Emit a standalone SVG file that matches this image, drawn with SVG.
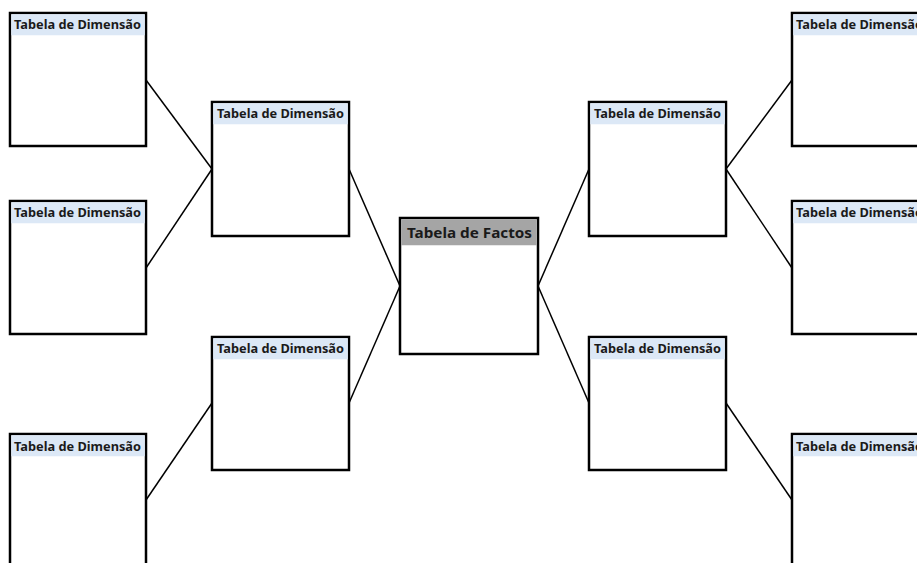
<svg xmlns="http://www.w3.org/2000/svg" width="917" height="563" viewBox="0 0 917 563">
<style>
.box{fill:#fff;stroke:#000;stroke-width:2.5}
.hd{fill:#dce8f6}
.hf{fill:#a5a5a5}
.t{font-family:"Noto Sans","Open Sans",sans-serif;font-weight:bold;font-size:12.6px;fill:#1a1a1a}
.tf{font-family:"Noto Sans","Open Sans",sans-serif;font-weight:bold;font-size:15px;fill:#1a1a1a}
.c{stroke:#000;stroke-width:1.5;fill:none}
</style>
<rect width="917" height="563" fill="#fff"/>
<g id="connectors">
<line class="c" x1="146" y1="80" x2="212" y2="169"/>
<line class="c" x1="146" y1="268" x2="212" y2="169"/>
<line class="c" x1="146" y1="500" x2="212" y2="403"/>
<line class="c" x1="349" y1="169" x2="400" y2="286"/>
<line class="c" x1="349" y1="403" x2="400" y2="286"/>
<line class="c" x1="538" y1="286" x2="589" y2="169"/>
<line class="c" x1="538" y1="286" x2="589" y2="403"/>
<line class="c" x1="726" y1="169" x2="792" y2="80"/>
<line class="c" x1="726" y1="169" x2="792" y2="268"/>
<line class="c" x1="726" y1="403" x2="792" y2="500"/>
</g>
<g id="dimL1"><rect class="box" x="10" y="13" width="136" height="133"/><rect class="hd" x="11.25" y="14.25" width="133.5" height="21"/><text class="t" x="14" y="29" textLength="127" lengthAdjust="spacingAndGlyphs">Tabela de Dimensão</text></g>
<g id="dimL2"><rect class="box" x="10" y="201" width="136" height="133"/><rect class="hd" x="11.25" y="202.25" width="133.5" height="21"/><text class="t" x="14" y="217" textLength="127" lengthAdjust="spacingAndGlyphs">Tabela de Dimensão</text></g>
<g id="dimL3"><rect class="box" x="10" y="434" width="136" height="140"/><rect class="hd" x="11.25" y="435.25" width="133.5" height="21"/><text class="t" x="14" y="451" textLength="127" lengthAdjust="spacingAndGlyphs">Tabela de Dimensão</text></g>
<g id="dimML1"><rect class="box" x="212" y="102" width="137" height="134"/><rect class="hd" x="213.25" y="103.25" width="134.5" height="21"/><text class="t" x="217" y="118" textLength="127" lengthAdjust="spacingAndGlyphs">Tabela de Dimensão</text></g>
<g id="dimML2"><rect class="box" x="212" y="337" width="137" height="133"/><rect class="hd" x="213.25" y="338.25" width="134.5" height="21"/><text class="t" x="217" y="353" textLength="127" lengthAdjust="spacingAndGlyphs">Tabela de Dimensão</text></g>
<g id="fact"><rect class="box" x="400" y="218" width="138" height="136"/><rect class="hf" x="401.25" y="219.25" width="135.5" height="26"/><text class="tf" x="407" y="238" textLength="125" lengthAdjust="spacingAndGlyphs">Tabela de Factos</text></g>
<g id="dimMR1"><rect class="box" x="589" y="102" width="137" height="134"/><rect class="hd" x="590.25" y="103.25" width="134.5" height="21"/><text class="t" x="594" y="118" textLength="127" lengthAdjust="spacingAndGlyphs">Tabela de Dimensão</text></g>
<g id="dimMR2"><rect class="box" x="589" y="337" width="137" height="133"/><rect class="hd" x="590.25" y="338.25" width="134.5" height="21"/><text class="t" x="594" y="353" textLength="127" lengthAdjust="spacingAndGlyphs">Tabela de Dimensão</text></g>
<g id="dimR1"><rect class="box" x="792" y="13" width="140" height="133"/><rect class="hd" x="793.25" y="14.25" width="137" height="21"/><text class="t" x="796" y="29" textLength="127" lengthAdjust="spacingAndGlyphs">Tabela de Dimensão</text></g>
<g id="dimR2"><rect class="box" x="792" y="201" width="140" height="133"/><rect class="hd" x="793.25" y="202.25" width="137" height="21"/><text class="t" x="796" y="217" textLength="127" lengthAdjust="spacingAndGlyphs">Tabela de Dimensão</text></g>
<g id="dimR3"><rect class="box" x="792" y="434" width="140" height="140"/><rect class="hd" x="793.25" y="435.25" width="137" height="21"/><text class="t" x="796" y="451" textLength="127" lengthAdjust="spacingAndGlyphs">Tabela de Dimensão</text></g>
</svg>
